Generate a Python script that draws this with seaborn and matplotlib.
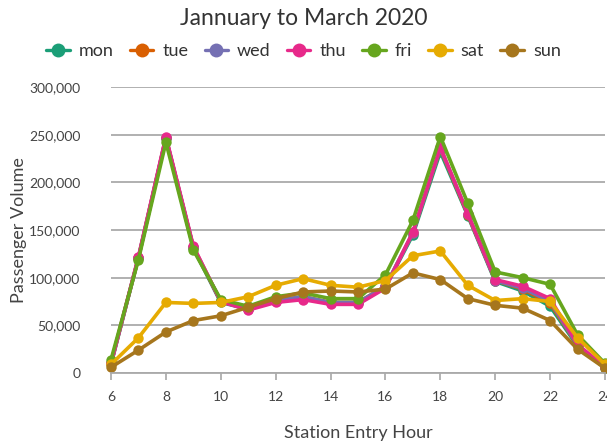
import matplotlib
matplotlib.use("Agg")
import matplotlib.pyplot as plt
import seaborn as sns
import pandas as pd
from matplotlib.ticker import FuncFormatter, MultipleLocator
from matplotlib.lines import Line2D

hours = list(range(6, 25))
days = ["mon", "tue", "wed", "thu", "fri", "sat", "sun"]
mon = [9, 121, 246, 131, 74, 67, 75, 79, 73, 73, 90, 145, 232, 165, 96, 86, 70, 28, 5]
tue = [10, 121, 247, 132, 75, 67, 76, 80, 74, 74, 91, 147, 235, 166, 97, 88, 73, 29, 6]
wed = [10, 121, 247, 132, 75, 67, 76, 80, 74, 74, 91, 147, 236, 167, 97, 89, 75, 29, 6]
thu = [10, 122, 248, 133, 75, 66, 74, 77, 72, 72, 89, 148, 237, 167, 98, 91, 78, 30, 6]
fri = [14, 119, 242, 129, 77, 70, 80, 84, 78, 78, 103, 160, 248, 178, 106, 100, 93, 40, 10]
sat = [9, 37, 74, 73, 74, 80, 92, 99, 92, 90, 97, 123, 128, 92, 76, 78, 75, 37, 9]
sun = [6, 24, 43, 55, 60, 69, 78, 85, 86, 85, 88, 105, 98, 78, 71, 68, 55, 25, 5]
series = [mon, tue, wed, thu, fri, sat, sun]

rows = []
for d, vals in zip(days, series):
    for h, v in zip(hours, vals):
        rows.append({"hour": h, "day": d, "volume": v * 1000})
df = pd.DataFrame(rows)

sns.set_theme(style="white")
plt.rcParams["font.family"] = ["Lato", "DejaVu Sans"]
palette = ["#1b9e77", "#d95f02", "#7570b3", "#e7298a", "#66a61e", "#e6ab02", "#a6761d"]

fig = plt.figure(figsize=(6.07, 4.45), dpi=100)
ax = fig.add_axes([0.1829, 0.1618, 0.8138, 0.6427])
sns.lineplot(data=df, x="hour", y="volume", hue="day", hue_order=days, palette=palette,
             marker="o", markersize=7.5, markeredgewidth=0, linewidth=2.6, ax=ax, legend=False,
             clip_on=False)

ax.set_xlim(6, 24)
ax.set_ylim(0, 300000)
ax.xaxis.set_major_locator(MultipleLocator(2))
ax.yaxis.set_major_locator(MultipleLocator(50000))
ax.yaxis.set_major_formatter(FuncFormatter(lambda v, p: f"{int(v):,}"))
ax.grid(axis="y", color="#aaaaaa", linewidth=1.3)
ax.set_axisbelow(True)
for s in ["top", "right", "left"]:
    ax.spines[s].set_visible(False)
ax.spines["bottom"].set_color("#aaaaaa")
ax.spines["bottom"].set_linewidth(1.3)
ax.tick_params(axis="x", bottom=True, length=5, color="#aaaaaa", labelsize=10, labelcolor="#444444", pad=8)
ax.tick_params(axis="y", left=False, labelsize=10, labelcolor="#444444", pad=16)
ax.set_xlabel("Station Entry Hour", fontsize=13, color="#444444", labelpad=16)
ax.set_ylabel("Passenger Volume", fontsize=13, color="#444444")
ax.yaxis.set_label_coords(-0.17, 0.5)

fig.text(0.5, 0.958, "Jannuary to March 2020", ha="center", va="center", fontsize=16.5, color="#333333")

handles = [Line2D([0], [0], color=c, linewidth=2.4, marker="o", markersize=10, markeredgewidth=0)
           for c in palette]
fig.legend(handles, days, loc="center", bbox_to_anchor=(0.5, 0.885), ncol=7, frameon=False,
           fontsize=13, handlelength=1.3, handletextpad=0.5, columnspacing=0.9,
           labelcolor="#333333")

fig.savefig("out.png", dpi=100)
